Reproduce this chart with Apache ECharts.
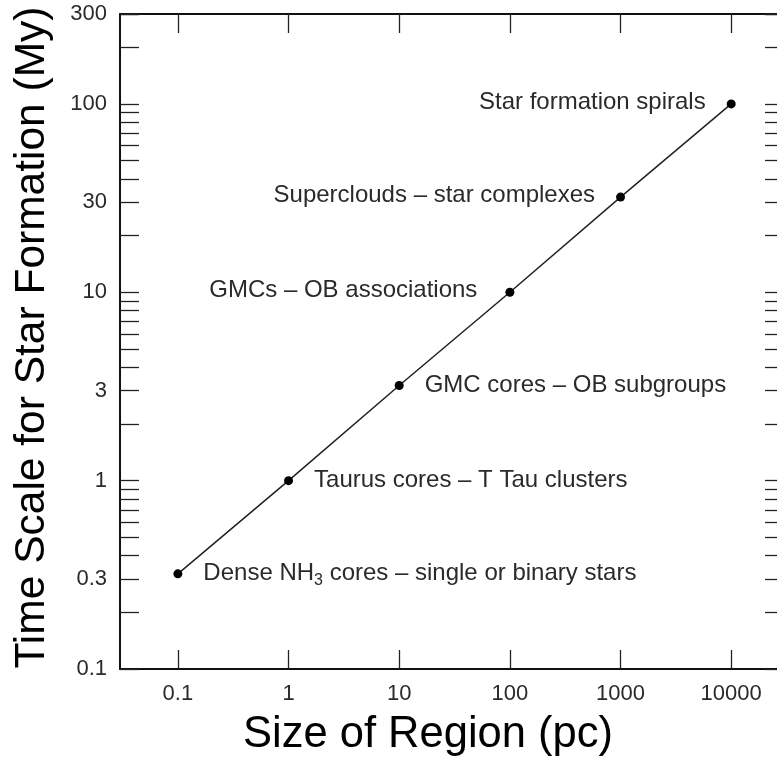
<!DOCTYPE html>
<html>
<head>
<meta charset="utf-8">
<script src="https://cdn.jsdelivr.net/npm/echarts@6/dist/echarts.min.js"></script>
<style>
  html, body { margin: 0; padding: 0; background: #fff; }
  #chart { width: 777px; height: 762px; }
</style>
</head>
<body>
<div id="chart"></div>
<script>
// Size of region (pc) and the star-formation time scale (My) for each kind of region
const sizes = [0.1, 1, 10, 100, 1000, 10000];
const timescales = [0.32, 1, 3.2, 10, 32, 100];
const regionNames = [
  'Dense NH3 cores – single or binary stars',
  'Taurus cores – T Tau clusters',
  'GMC cores – OB subgroups',
  'GMCs – OB associations',
  'Superclouds – star complexes',
  'Star formation spirals'
];
const labelSides = ['right', 'right', 'right', 'left', 'left', 'left'];

// Axis tick labels
const xTickLabels = [0.1, 1, 10, 100, 1000, 10000];
const yTickLabels = [0.1, 0.3, 1, 3, 10, 30, 100, 300];

const xRange = [0.03, 30000];
const yRange = [0.1, 300];

// Tick marks on the time axis: every 1..9 multiple of each decade
const yTickMarks = [];
[0.1, 1, 10, 100].forEach(function (dec) {
  for (let k = 1; k <= 9; k++) {
    const v = +(dec * k).toPrecision(6);
    if (v >= yRange[0] && v <= yRange[1]) yTickMarks.push(v);
  }
});
yTickMarks.push(300);

const fmt = function (v) { return String(+(+v).toPrecision(6)); };
const axisLine = { show: true, lineStyle: { color: '#111', width: 2 } };
const tickStyle = { color: '#222', width: 1.3 };
const labelFont = { fontFamily: 'Liberation Sans', fontSize: 22, color: '#2a2a2a' };

// Turn "NH3" into a subscripted formula
function richName(name) {
  return name.replace('NH3', 'NH{sub|3}').replace(/^(.*)\{sub\|3\}(.*)$/, '{t|$1}{sub|3}{t|$2}');
}

const chart = echarts.init(document.getElementById('chart'), null, { renderer: 'canvas' });

chart.setOption({
  backgroundColor: '#fff',
  animation: false,
  // the frame runs a little past the right edge of the canvas
  grid: { left: 120, top: 14, right: -7, bottom: 93, containLabel: false, outerBoundsMode: 'none' },
  xAxis: [
    {
      type: 'log', logBase: 10, min: xRange[0], max: xRange[1], position: 'bottom',
      axisLine: axisLine,
      axisTick: { show: true, inside: true, length: 19, lineStyle: tickStyle, customValues: xTickLabels },
      axisLabel: Object.assign({ margin: 14, formatter: fmt, customValues: xTickLabels }, labelFont),
      splitLine: { show: false }, minorTick: { show: false },
      name: 'Size of Region (pc)', nameLocation: 'middle', nameGap: 44,
      nameTextStyle: { fontFamily: 'Liberation Sans', fontSize: 43.5, color: '#000', padding: [0, 48, 0, 0] }
    },
    {
      type: 'log', logBase: 10, min: xRange[0], max: xRange[1], position: 'top',
      axisLine: axisLine,
      axisTick: { show: true, inside: true, length: 19, lineStyle: tickStyle, customValues: xTickLabels },
      axisLabel: { show: false },
      splitLine: { show: false }
    }
  ],
  yAxis: [
    {
      type: 'log', logBase: 10, min: yRange[0], max: yRange[1], position: 'left',
      axisLine: axisLine,
      axisTick: { show: true, inside: true, length: 19, lineStyle: tickStyle, customValues: yTickMarks },
      axisLabel: Object.assign({ margin: 13, formatter: fmt, customValues: yTickLabels }, labelFont),
      splitLine: { show: false }, minorTick: { show: false },
      name: 'Time Scale for Star Formation (My)', nameLocation: 'middle', nameGap: 66, nameRotate: 90,
      nameTextStyle: { fontFamily: 'Liberation Sans', fontSize: 42.5, color: '#000', padding: [0, 0, 0, 8] }
    },
    {
      type: 'log', logBase: 10, min: yRange[0], max: yRange[1], position: 'right',
      axisLine: axisLine,
      axisTick: { show: true, inside: true, length: 19, lineStyle: tickStyle, customValues: yTickMarks },
      axisLabel: { show: false },
      splitLine: { show: false }
    }
  ],
  series: [
    {
      type: 'line',
      xAxisIndex: 0, yAxisIndex: 0,
      symbol: 'circle', symbolSize: 9,
      lineStyle: { color: '#222', width: 1.5 },
      itemStyle: { color: '#000' },
      data: sizes.map(function (s, i) {
        return {
          value: [s, timescales[i]],
          name: regionNames[i],
          label: {
            position: labelSides[i],
            distance: i === 3 ? 28 : 21,
            offset: labelSides[i] === 'left' ? [0, -2] : [0, 0]
          }
        };
      }),
      label: {
        show: true,
        formatter: function (p) { return richName(p.name); },
        fontFamily: 'Liberation Sans', fontSize: 24, color: '#2a2a2a',
        rich: {
          t: { fontFamily: 'Liberation Sans', fontSize: 24, color: '#2a2a2a' },
          sub: { fontFamily: 'Liberation Sans', fontSize: 16, color: '#2a2a2a', padding: [13, 0, 0, 0] }
        }
      }
    }
  ]
});
</script>
</body>
</html>
